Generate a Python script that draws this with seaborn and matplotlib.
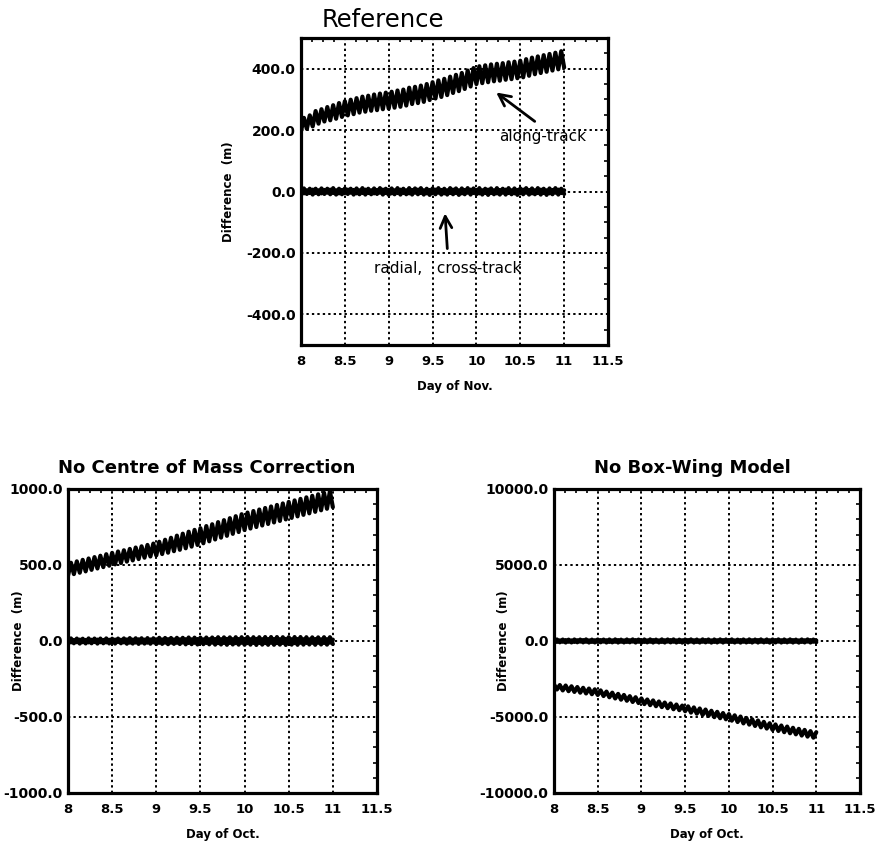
import numpy as np
import pandas as pd
import matplotlib
matplotlib.use("Agg")
import matplotlib.pyplot as plt
import seaborn as sns

days = np.linspace(8, 11, 91)

ref_along = [197, 240, 204, 248, 212, 262, 221, 268, 228, 275,
             232, 281, 237, 288, 243, 294, 248, 299, 252, 304,
             257, 309, 260, 312, 263, 316, 265, 319, 268, 322,
             270, 325, 273, 329, 276, 332, 280, 338, 285, 341,
             288, 345, 292, 350, 298, 356, 303, 362, 308, 367,
             314, 374, 321, 380, 327, 386, 334, 394, 342, 402,
             350, 408, 353, 411, 356, 414, 359, 416, 361, 418,
             364, 421, 366, 423, 369, 426, 372, 431, 377, 436,
             382, 440, 386, 444, 390, 448, 394, 452, 398, 457, 404]
ref_radial = [-9, 10, -8, 9, -10, 9, -9, 10, -8, 9,
              -9, 11, -10, 9, -9, 10, -8, 9, -10, 10,
              -9, 11, -10, 9, -9, 10, -8, 11, -10, 9,
              -11, 10, -9, 11, -10, 9, -9, 11, -10, 10,
              -9, 11, -10, 9, -11, 10, -9, 11, -10, 9,
              -10, 11, -9, 10, -11, 10, -9, 11, -10, 10,
              -9, 11, -10, 9, -11, 10, -9, 11, -10, 9,
              -10, 11, -9, 10, -11, 10, -9, 11, -10, 10,
              -9, 11, -10, 9, -11, 10, -9, 11, -10, 9, -8]
ref_cross = [5, -6, 4, -5, 6, -5, 4, -6, 5, -4,
             6, -5, 4, -6, 5, -5, 6, -4, 5, -6,
             4, -5, 6, -5, 4, -6, 5, -4, 6, -5,
             5, -6, 4, -5, 6, -5, 4, -6, 5, -4,
             6, -5, 4, -6, 5, -5, 6, -4, 5, -6,
             4, -5, 6, -5, 4, -6, 5, -4, 6, -5,
             5, -6, 4, -5, 6, -5, 4, -6, 5, -4,
             6, -5, 4, -6, 5, -5, 6, -4, 5, -6,
             4, -5, 6, -5, 4, -6, 5, -4, 6, -5, 4]

com_along = [430, 515, 440, 524, 449, 534, 458, 543, 468, 552,
             477, 561, 486, 571, 495, 580, 504, 589, 513, 597,
             522, 606, 530, 615, 539, 623, 548, 632, 556, 641,
             563, 653, 572, 666, 581, 679, 591, 693, 600, 706,
             610, 719, 621, 731, 632, 742, 643, 756, 656, 768,
             668, 782, 680, 795, 692, 808, 705, 821, 717, 834,
             730, 845, 740, 855, 750, 865, 760, 875, 770, 885,
             780, 895, 790, 905, 800, 915, 810, 925, 820, 935,
             830, 945, 840, 955, 850, 965, 860, 975, 870, 985, 880]
com_radial = [-16, 17, -15, 16, -17, 15, -16, 17, -15, 16,
              -17, 16, -15, 17, -16, 15, -17, 16, -15, 17,
              -18, 19, -17, 18, -19, 18, -17, 19, -18, 18,
              -20, 21, -19, 20, -21, 20, -19, 21, -20, 21,
              -22, 23, -21, 22, -23, 22, -21, 23, -22, 23,
              -24, 25, -23, 24, -25, 24, -23, 25, -24, 25,
              -25, 26, -24, 25, -26, 25, -24, 26, -25, 26,
              -25, 26, -24, 25, -26, 25, -24, 26, -25, 26,
              -24, 25, -23, 24, -25, 24, -23, 25, -24, 25, -20]
com_cross = [8, -9, 7, -8, 9, -8, 7, -9, 8, -7,
             9, -8, 7, -9, 8, -8, 9, -7, 8, -9,
             10, -11, 9, -10, 11, -10, 9, -11, 10, -9,
             11, -12, 10, -11, 12, -11, 10, -12, 11, -10,
             12, -13, 11, -12, 13, -12, 11, -13, 12, -11,
             13, -14, 12, -13, 14, -13, 12, -14, 13, -12,
             13, -14, 12, -13, 14, -13, 12, -14, 13, -12,
             13, -14, 12, -13, 14, -13, 12, -14, 13, -12,
             12, -13, 11, -12, 13, -12, 11, -13, 12, -11, 9]

bw_along = [-2850, -3190, -2900, -3250, -2930, -3300, -2980, -3350, -3030, -3400,
            -3080, -3450, -3130, -3500, -3180, -3550, -3250, -3620, -3330, -3700,
            -3400, -3780, -3480, -3860, -3550, -3930, -3630, -4010, -3700, -4080,
            -3780, -4150, -3850, -4220, -3910, -4290, -3980, -4350, -4050, -4420,
            -4110, -4490, -4180, -4550, -4250, -4620, -4300, -4710, -4370, -4780,
            -4440, -4860, -4510, -4930, -4590, -5010, -4660, -5080, -4740, -5150,
            -4810, -5240, -4890, -5330, -4970, -5420, -5060, -5500, -5150, -5590,
            -5230, -5680, -5320, -5760, -5410, -5850, -5490, -5920, -5560, -6000,
            -5630, -6070, -5710, -6140, -5780, -6220, -5850, -6290, -5930, -6360, -6000]
bw_radial = [-90, 100, -85, 95, -100, 90, -95, 100, -85, 95,
             -90, 105, -100, 90, -95, 100, -85, 95, -100, 100,
             -90, 105, -100, 90, -95, 100, -85, 105, -100, 95,
             -105, 100, -90, 105, -100, 90, -95, 105, -100, 100,
             -90, 105, -100, 90, -105, 100, -95, 105, -100, 95,
             -100, 105, -90, 100, -105, 100, -95, 105, -100, 100,
             -90, 105, -100, 90, -105, 100, -95, 105, -100, 95,
             -100, 105, -90, 100, -105, 100, -95, 105, -100, 100,
             -90, 105, -100, 90, -105, 100, -95, 105, -100, 95, -80]
bw_cross = [50, -60, 40, -50, 60, -50, 40, -60, 50, -40,
            60, -50, 40, -60, 50, -50, 60, -40, 50, -60,
            40, -50, 60, -50, 40, -60, 50, -40, 60, -50,
            50, -60, 40, -50, 60, -50, 40, -60, 50, -40,
            60, -50, 40, -60, 50, -50, 60, -40, 50, -60,
            40, -50, 60, -50, 40, -60, 50, -40, 60, -50,
            50, -60, 40, -50, 60, -50, 40, -60, 50, -40,
            60, -50, 40, -60, 50, -50, 60, -40, 50, -60,
            40, -50, 60, -50, 40, -60, 50, -40, 60, -50, 40]

x_ticks = [8, 8.5, 9, 9.5, 10, 10.5, 11, 11.5]
x_ticklabels = ["8", "8.5", "9", "9.5", "10", "10.5", "11", "11.5"]

sns.set_theme(style="white")
plt.rcParams['font.family'] = ['DejaVu Sans']
plt.rcParams['text.color'] = 'black'
plt.rcParams['axes.labelcolor'] = 'black'

fig = plt.figure(figsize=(8.76, 8.43), dpi=100)
W, H = 876, 843


def px_axes(l, t, r, b):
    return fig.add_axes([l / W, 1 - b / H, (r - l) / W, (b - t) / H])


def style_axes(ax, ylim, yticks, xlabel, ylab_x):
    ax.set_xlim(8, 11.5)
    ax.set_ylim(*ylim)
    ax.set_xticks(x_ticks)
    ax.set_xticklabels(x_ticklabels)
    ax.set_yticks(yticks)
    ax.set_yticklabels([f"{v:.1f}" for v in yticks])
    ax.set_xticks(np.arange(8, 11.51, 0.125), minor=True)
    ax.set_yticks(np.linspace(ylim[0], ylim[1], 21), minor=True)
    ax.tick_params(which='both', direction='in', top=True, right=True,
                   colors='black', width=1.2)
    ax.tick_params(which='major', length=0)
    ax.tick_params(axis='x', which='major', labelsize=9.5, pad=7)
    ax.tick_params(axis='y', which='major', labelsize=10, pad=4)
    ax.tick_params(which='minor', length=3)
    for lab in ax.get_xticklabels() + ax.get_yticklabels():
        lab.set_fontweight('bold')
    ax.grid(True, which='major', linestyle=(0, (1.2, 1.6)), color='black', lw=1.4)
    for s in ax.spines.values():
        s.set_linewidth(2.3)
        s.set_color('black')
    ax.set_xlabel(xlabel, fontsize=8.5, fontweight='bold', labelpad=9)
    ax.set_ylabel("Difference  (m)", fontsize=8.5, fontweight='bold')
    ax.yaxis.set_label_coords(ylab_x, 0.5)


def draw(ax, along, radial, cross):
    df = pd.DataFrame({'day': days, 'along': along, 'radial': radial, 'cross': cross})
    for col in ['radial', 'cross', 'along']:
        sns.lineplot(data=df, x='day', y=col, ax=ax, color='black', lw=3.0,
                     estimator=None, sort=False, legend=False)


arrow = dict(arrowstyle='->,head_length=0.7,head_width=0.35', color='black', lw=2.0)

ax1 = px_axes(301, 38, 608, 345)
draw(ax1, ref_along, ref_radial, ref_cross)
style_axes(ax1, (-500, 500), [-400, -200, 0, 200, 400], "Day of Nov.", -0.215)
ax1.annotate("", xy=(10.2, 328), xytext=(10.69, 223), arrowprops=arrow)
ax1.text(10.76, 180, "along-track", ha='center', va='center', fontsize=11)
ax1.annotate("", xy=(9.64, -62), xytext=(9.67, -195), arrowprops=arrow)
ax1.text(9.67, -252, "radial,   cross-track", ha='center', va='center', fontsize=11)

ax2 = px_axes(68, 489, 377, 793)
draw(ax2, com_along, com_radial, com_cross)
style_axes(ax2, (-1000, 1000), [-1000, -500, 0, 500, 1000], "Day of Oct.", -0.14)

ax3 = px_axes(554, 489, 860, 793)
draw(ax3, bw_along, bw_radial, bw_cross)
style_axes(ax3, (-10000, 10000), [-10000, -5000, 0, 5000, 10000], "Day of Oct.", -0.145)

fig.text(383 / W, 1 - 20 / H, "Reference", ha='center', va='center', fontsize=17.5)
fig.text(207 / W, 1 - 468 / H, "No Centre of Mass Correction", ha='center', va='center',
         fontsize=13, fontweight='bold')
fig.text(692 / W, 1 - 468 / H, "No Box-Wing Model", ha='center', va='center',
         fontsize=13, fontweight='bold')

fig.savefig("out.png", dpi=100)
